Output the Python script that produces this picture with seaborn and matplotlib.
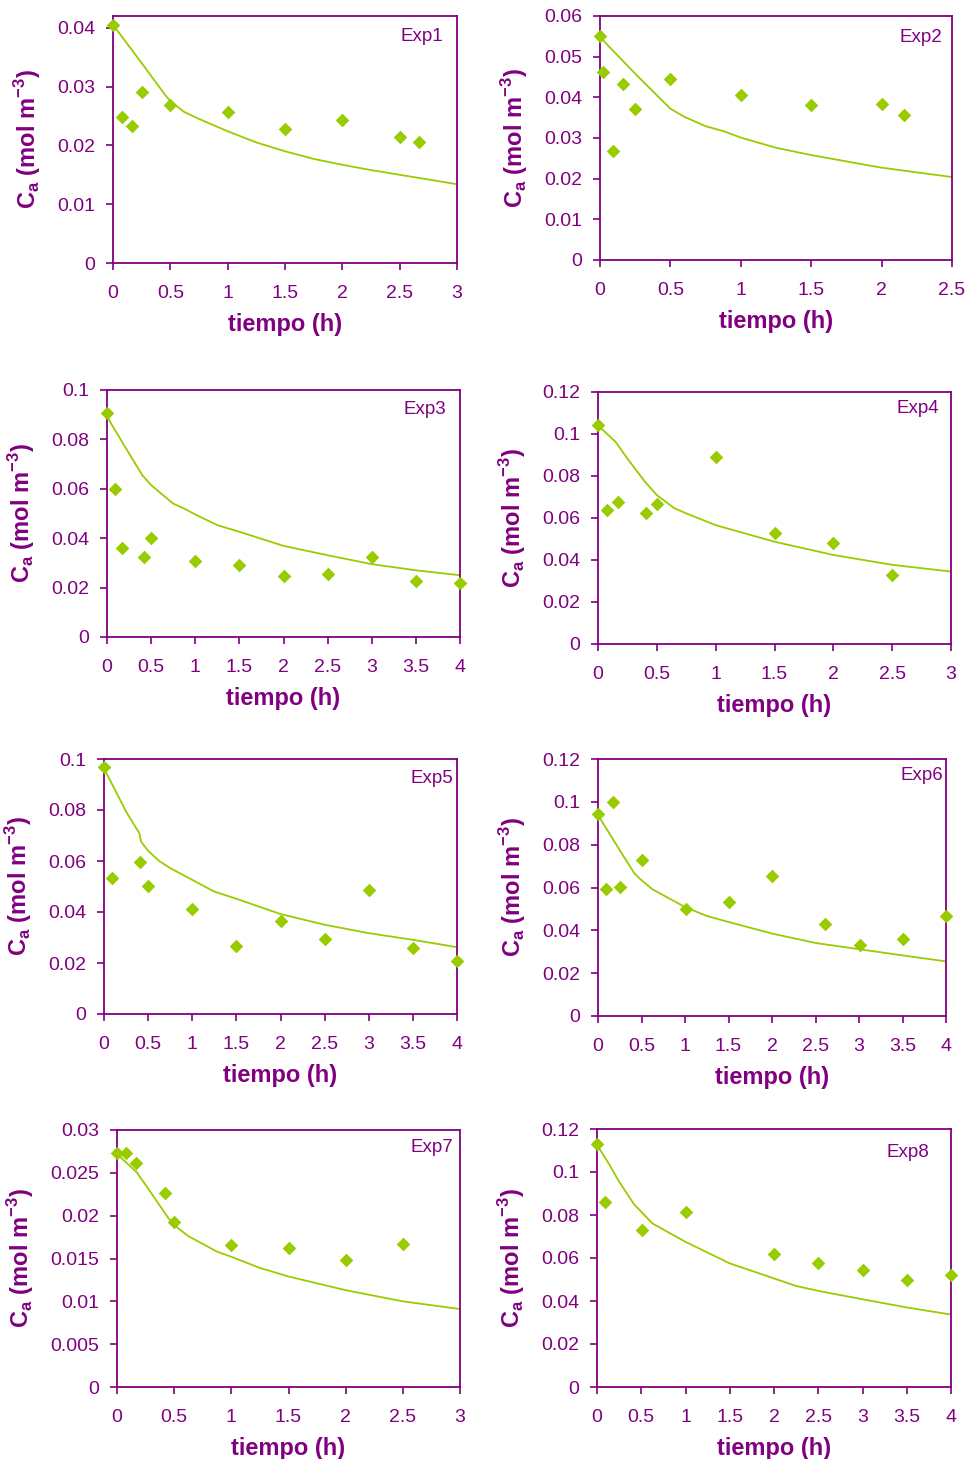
import matplotlib
matplotlib.use("Agg")
import matplotlib.pyplot as plt
import seaborn as sns
import pandas as pd
from matplotlib.ticker import FuncFormatter, MultipleLocator

sns.set_theme(style="white")
plt.rcParams['font.family'] = ['Liberation Sans', 'DejaVu Sans']
plt.rcParams['mathtext.fontset'] = 'custom'
plt.rcParams['mathtext.rm'] = 'Liberation Sans'
plt.rcParams['mathtext.bf'] = 'Liberation Sans:bold'

PURPLE = "#800080"
GREEN = "#99CC00"

# ---------- data ----------
exp_names = ["Exp1", "Exp2", "Exp3", "Exp4", "Exp5", "Exp6", "Exp7", "Exp8"]

exp1_t = [0, 0.08, 0.17, 0.25, 0.5, 1.0, 1.5, 2.0, 2.5, 2.67]
exp1_c = [0.0405, 0.0249, 0.0233, 0.029, 0.0268, 0.0256, 0.0228, 0.0243, 0.0215, 0.0205]
exp1_mt = [0, 0.25, 0.45, 0.5, 0.62, 0.75, 1.0, 1.25, 1.5, 1.75, 2.0, 2.25, 2.5, 2.75, 3.0]
exp1_mc = [0.0405, 0.034, 0.0287, 0.0275, 0.0257, 0.0245, 0.0224, 0.0205, 0.019, 0.0177, 0.0167, 0.0158, 0.015, 0.0142, 0.0134]

exp2_t = [0, 0.024, 0.09, 0.166, 0.25, 0.5, 1.0, 1.5, 2.0, 2.16]
exp2_c = [0.0552, 0.0462, 0.0268, 0.0433, 0.0372, 0.0444, 0.0406, 0.038, 0.0384, 0.0357]
exp2_mt = [0, 0.25, 0.5, 0.6, 0.75, 0.875, 1.0, 1.25, 1.5, 2.0, 2.5]
exp2_mc = [0.0548, 0.0458, 0.0372, 0.0352, 0.0329, 0.0317, 0.0301, 0.0276, 0.0258, 0.0227, 0.0204]

exp3_t = [0, 0.087, 0.17, 0.415, 0.5, 1.0, 1.5, 2.0, 2.5, 3.0, 3.5, 4.0]
exp3_c = [0.0908, 0.06, 0.0361, 0.0324, 0.0399, 0.0307, 0.0293, 0.0245, 0.0257, 0.0324, 0.0226, 0.022]
exp3_mt = [0, 0.25, 0.4, 0.5, 0.75, 0.875, 1.0, 1.25, 1.5, 2.0, 2.5, 3.0, 3.5, 4.0]
exp3_mc = [0.0892, 0.0743, 0.0655, 0.0615, 0.054, 0.052, 0.0496, 0.0453, 0.0426, 0.0369, 0.0331, 0.0295, 0.027, 0.025]

exp4_t = [0, 0.076, 0.167, 0.41, 0.5, 1.0, 1.5, 2.0, 2.5]
exp4_c = [0.1044, 0.064, 0.0674, 0.0622, 0.0669, 0.0892, 0.053, 0.0483, 0.0329]
exp4_mt = [0, 0.15, 0.25, 0.4, 0.5, 0.65, 0.75, 1.0, 1.5, 2.0, 2.5, 3.0]
exp4_mc = [0.1041, 0.0962, 0.0883, 0.0772, 0.0709, 0.0646, 0.0622, 0.0566, 0.0487, 0.0424, 0.0377, 0.0345]

exp5_t = [0, 0.09, 0.41, 0.5, 1.0, 1.5, 2.0, 2.5, 3.0, 3.5, 4.0]
exp5_c = [0.0967, 0.0535, 0.0595, 0.0503, 0.041, 0.0268, 0.0366, 0.0295, 0.0486, 0.0257, 0.0208]
exp5_mt = [0, 0.25, 0.4, 0.42, 0.5, 0.625, 0.75, 1.0, 1.25, 1.5, 2.0, 2.5, 3.0, 3.5, 4.0]
exp5_mc = [0.0963, 0.0794, 0.0709, 0.0676, 0.064, 0.06, 0.0572, 0.0526, 0.048, 0.0452, 0.0392, 0.035, 0.0317, 0.0291, 0.0262]

exp6_t = [0, 0.088, 0.176, 0.25, 0.505, 1.01, 1.5, 2.0, 2.61, 3.01, 3.5, 4.0]
exp6_c = [0.0941, 0.0595, 0.1, 0.0601, 0.073, 0.0498, 0.0531, 0.0654, 0.0428, 0.0332, 0.0358, 0.0467]
exp6_mt = [0, 0.25, 0.42, 0.5, 0.625, 0.75, 1.0, 1.25, 1.5, 2.0, 2.5, 3.0, 3.5, 4.0]
exp6_mc = [0.0938, 0.0774, 0.0665, 0.0634, 0.0592, 0.0564, 0.0509, 0.0467, 0.0439, 0.0385, 0.0341, 0.0312, 0.0283, 0.0255]

exp7_t = [0, 0.08, 0.17, 0.417, 0.5, 1.0, 1.5, 2.0, 2.5]
exp7_c = [0.0273, 0.0273, 0.0261, 0.0226, 0.0193, 0.0166, 0.0162, 0.0148, 0.0167]
exp7_mt = [0, 0.17, 0.25, 0.45, 0.5, 0.625, 0.875, 1.0, 1.25, 1.5, 2.0, 2.5, 3.0]
exp7_mc = [0.0272, 0.0251, 0.0236, 0.0197, 0.0189, 0.0176, 0.0158, 0.0152, 0.0139, 0.0129, 0.0113, 0.01, 0.0091]

exp8_t = [0, 0.09, 0.51, 1.0, 2.0, 2.5, 3.0, 3.5, 4.0]
exp8_c = [0.1129, 0.0859, 0.0728, 0.0812, 0.062, 0.0575, 0.0542, 0.0497, 0.0522]
exp8_mt = [0, 0.12, 0.25, 0.42, 0.5, 0.625, 1.0, 1.5, 2.0, 2.25, 2.5, 3.0, 3.5, 4.0]
exp8_mc = [0.1126, 0.1048, 0.0955, 0.0849, 0.0815, 0.0761, 0.0675, 0.0575, 0.0505, 0.047, 0.0447, 0.0408, 0.037, 0.0337]

# axis settings per panel
x_max = [3, 2.5, 4, 3, 4, 4, 3, 4]
y_max = [0.042, 0.06, 0.1, 0.12, 0.1, 0.12, 0.03, 0.12]
y_step = [0.01, 0.01, 0.02, 0.02, 0.02, 0.02, 0.005, 0.02]

obs = [(exp1_t, exp1_c), (exp2_t, exp2_c), (exp3_t, exp3_c), (exp4_t, exp4_c),
       (exp5_t, exp5_c), (exp6_t, exp6_c), (exp7_t, exp7_c), (exp8_t, exp8_c)]
mod = [(exp1_mt, exp1_mc), (exp2_mt, exp2_mc), (exp3_mt, exp3_mc), (exp4_mt, exp4_mc),
       (exp5_mt, exp5_mc), (exp6_mt, exp6_mc), (exp7_mt, exp7_mc), (exp8_mt, exp8_mc)]

# ---------- layout (pixel boxes: left, top, right, bottom) ----------
W, H = 973, 1459
boxes = [(113, 16, 457, 263), (600, 16, 952, 260),
         (107, 390, 460, 637), (598, 392, 951, 644),
         (104, 759, 457, 1014), (598, 759, 946, 1016),
         (117, 1130, 460, 1387), (597, 1129, 951, 1387)]
label_pos = [(0.959, 0.915), (0.972, 0.91), (0.96, 0.92), (0.966, 0.933),
             (0.989, 0.925), (0.991, 0.934), (0.98, 0.93), (0.938, 0.91)]

fig = plt.figure(figsize=(W / 100, H / 100), dpi=100)
fmt = FuncFormatter(lambda v, p: ("%g" % round(v, 6)))

for i in range(8):
    l, t, r, b = boxes[i]
    ax = fig.add_axes([l / W, 1 - b / H, (r - l) / W, (b - t) / H])
    mt, mc = mod[i]
    ot, oc = obs[i]
    sns.lineplot(x=mt, y=mc, ax=ax, color=GREEN, lw=1.3, sort=False, estimator=None)
    sns.scatterplot(x=ot, y=oc, ax=ax, color=GREEN, marker="D", s=48,
                    edgecolor=GREEN, linewidth=0, clip_on=False, zorder=5)
    ax.set_xlim(0, x_max[i])
    ax.set_ylim(0, y_max[i])
    ax.xaxis.set_major_locator(MultipleLocator(0.5))
    ax.yaxis.set_major_locator(MultipleLocator(y_step[i]))
    ax.xaxis.set_major_formatter(fmt)
    ax.yaxis.set_major_formatter(fmt)
    for s in ax.spines.values():
        s.set_color(PURPLE)
        s.set_linewidth(1.3)
    ax.tick_params(axis="both", which="major", direction="out", length=5, width=1.2,
                   color=PURPLE, labelcolor=PURPLE, labelsize=14, pad=8,
                   bottom=True, left=True)
    ax.tick_params(axis="x", pad=11)
    ax.set_xlabel("tiempo (h)", color=PURPLE, fontsize=17, fontweight="bold", labelpad=8)
    ax.set_ylabel(r"C$_\mathregular{a}$ (mol m$^\mathbf{-3}$)", color=PURPLE,
                  fontsize=17, fontweight="bold", labelpad=10)
    ax.text(label_pos[i][0], label_pos[i][1], exp_names[i], transform=ax.transAxes,
            ha="right", va="center", color=PURPLE, fontsize=13.5)
    ax.grid(False)

fig.savefig("out.png", dpi=100, facecolor="white")
